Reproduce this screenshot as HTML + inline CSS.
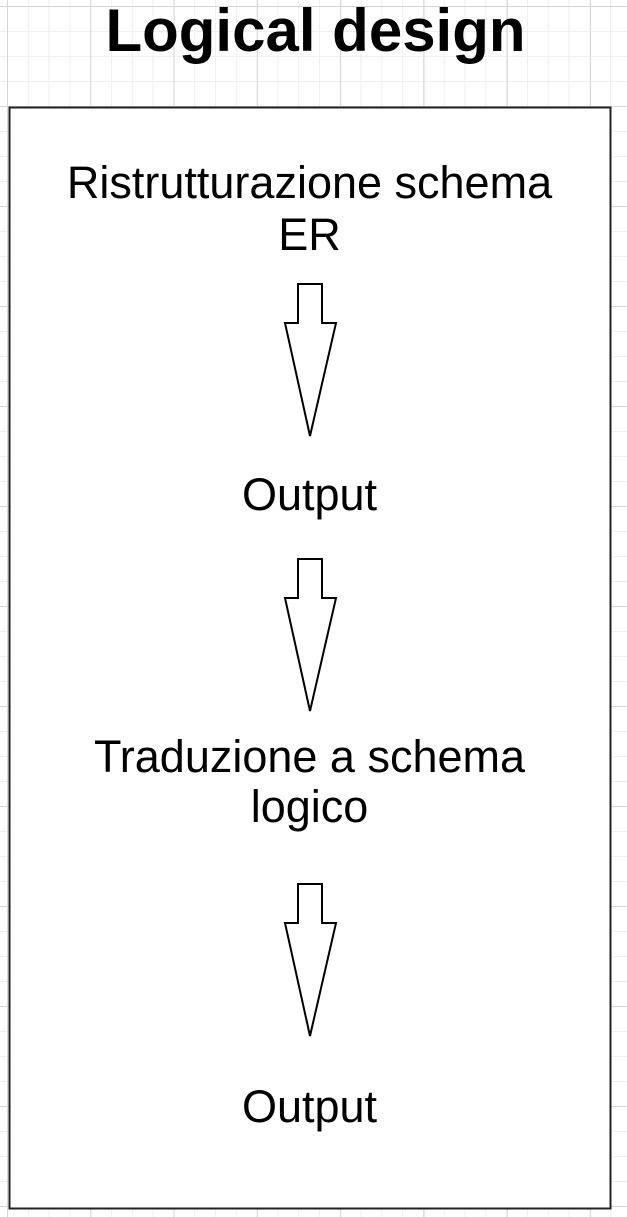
<!DOCTYPE html>
<html><head><meta charset="utf-8"><style>
html,body{margin:0;padding:0;background:#fff;}
body{width:627px;height:1217px;position:relative;overflow:hidden;
background-image:
linear-gradient(#d6d6d6 1px,transparent 1px),linear-gradient(90deg,#d6d6d6 1px,transparent 1px),
linear-gradient(#efefef 1px,transparent 1px),linear-gradient(90deg,#efefef 1px,transparent 1px);
background-size:83.3px 100px,83.3px 100px,20.8px 25px,20.8px 25px;
background-position:7px 6px,7px 6px,7px 6px,7px 6px;}
.t{position:absolute;left:-4px;width:627px;text-align:center;font-family:"Liberation Sans",Arial,sans-serif;white-space:nowrap;line-height:1;font-size:45px;}
</style></head><body>
<svg width="627" height="1217" style="position:absolute;left:0;top:0">
<rect x="9.5" y="107.5" width="601" height="1101" fill="#fff" stroke="#222" stroke-width="2"/>
<g fill="#fff" stroke="#000" stroke-width="2" stroke-linejoin="miter">
<polygon points="298,284 322,284 322,323 336,323 310,436 285,323 298,323"/>
<polygon points="298,559 322,559 322,598 336,598 310,711 285,598 298,598"/>
<polygon points="298,884 322,884 322,923 336,923 310,1036 285,923 298,923"/>
</g>
</svg>
<div class="t" style="top:1px;font-size:60px;font-weight:bold;left:2px">Logical design</div>
<div class="t" style="top:160px">Ristrutturazione schema</div>
<div class="t" style="top:212px">ER</div>
<div class="t" style="top:472px">Output</div>
<div class="t" style="top:734px">Traduzione a schema</div>
<div class="t" style="top:784px">logico</div>
<div class="t" style="top:1084px">Output</div>
</body></html>
